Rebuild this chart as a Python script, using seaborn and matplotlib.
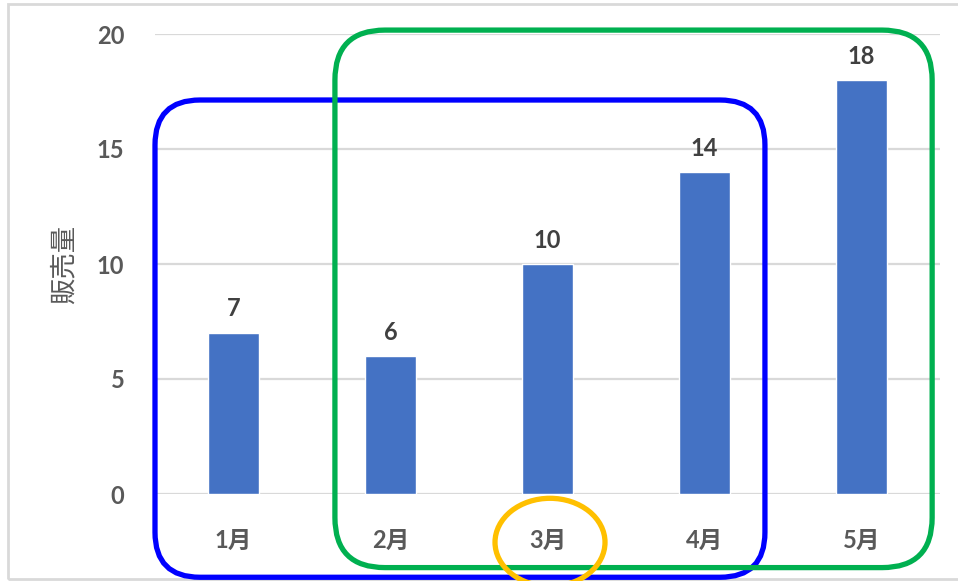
import matplotlib
matplotlib.use("Agg")
import matplotlib.pyplot as plt
from matplotlib.patches import FancyBboxPatch, Ellipse, Rectangle
from matplotlib.transforms import IdentityTransform
import seaborn as sns
import pandas as pd

months = ["1月", "2月", "3月", "4月", "5月"]
sales = [7, 6, 10, 14, 18]
y_ticks = [0, 5, 10, 15, 20]
y_label = "販売量"

sns.set_theme(style="white")
plt.rcParams["font.family"] = ["Lato", "Noto Sans CJK JP", "DejaVu Sans"]

W, H, DPI = 958, 581, 100
fig = plt.figure(figsize=(W / DPI, H / DPI), dpi=DPI)
ax = fig.add_axes([155 / W, 87 / H, 785 / W, 460 / H])

df = pd.DataFrame({"month": months, "sales": sales})
sns.barplot(data=df, x="month", y="sales", color="#4472C4", width=0.32,
            saturation=1, ax=ax)

ax.set_xlim(-0.5, len(months) - 0.5)
ax.set_ylim(0, 20)
ax.set_yticks(y_ticks)
ax.yaxis.grid(True, color="#D9D9D9", linewidth=1.6)
ax.set_axisbelow(True)
for s in ax.spines.values():
    s.set_visible(False)
ax.tick_params(axis="both", length=0, labelsize=17, labelcolor="#595959")
ax.tick_params(axis="y", pad=22)
ax.tick_params(axis="x", pad=25)
for lab in ax.get_xticklabels() + ax.get_yticklabels():
    lab.set_fontweight("bold")
ax.set_xlabel("")
ax.set_ylabel(y_label, fontsize=19, color="#595959", labelpad=14,
              family=["Noto Sans CJK JP"])

for c in ax.containers:
    ax.bar_label(c, labels=[str(v) for v in sales], padding=9, fontsize=17,
                 fontweight="bold", color="#404040")

# outer frame of the chart area
fig.patches.append(Rectangle((8, 2), W, H - 6, transform=IdentityTransform(),
                             fill=False, edgecolor="#D9D9D9", linewidth=2))

fig.canvas.draw()
to_px = ax.transData.transform


def rounded_box(x0, x1, y0, y1, color, radius):
    (px0, py0), (px1, py1) = to_px((x0, y0)), to_px((x1, y1))
    box = FancyBboxPatch((px0, py0), px1 - px0, py1 - py0,
                         boxstyle=f"round,pad=0,rounding_size={radius}",
                         transform=IdentityTransform(), fill=False,
                         edgecolor=color, linewidth=3.8, clip_on=False)
    fig.patches.append(box)


# group highlighting: first four months and last four months
rounded_box(-0.5, 3.385, -3.62, 17.13, "#0000FF", 45)
rounded_box(0.646, 4.45, -3.2, 20.17, "#00B050", 50)

# highlight for the March label
cx, cy = to_px((2.016, -2.1))
fig.patches.append(Ellipse((cx, cy), 110, 88, transform=IdentityTransform(),
                           fill=False, edgecolor="#FFC000", linewidth=3.8))

fig.savefig("out.png", dpi=DPI)
